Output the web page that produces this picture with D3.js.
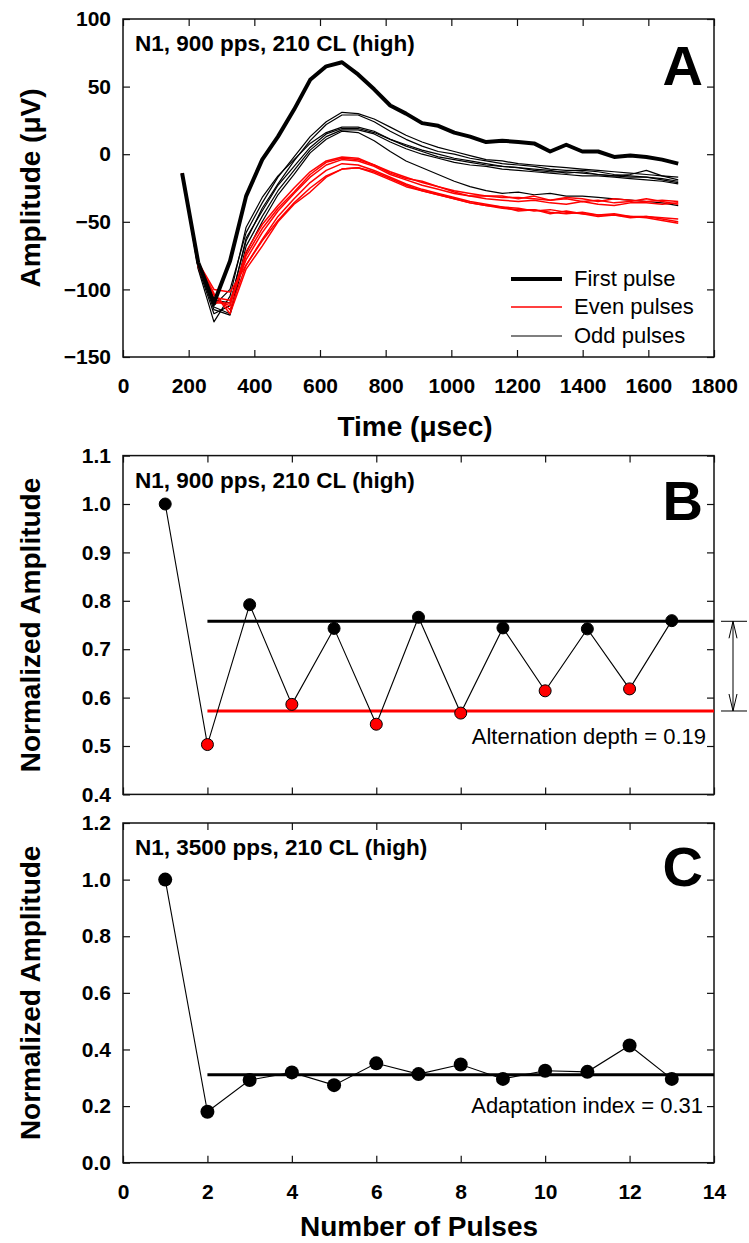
<!DOCTYPE html>
<html>
<head>
<meta charset="utf-8">
<script src="https://cdn.jsdelivr.net/npm/d3@7"></script>
<style>
  body { margin: 0; background: #fff; }
  svg { display: block; }
  text { font-family: "Liberation Sans", Arial, sans-serif; fill: #000; }
</style>
</head>
<body>
<svg id="fig" width="749" height="1243"></svg>
<script>
// ---- Panel A: compound action potential waveforms (µV vs µs) ----
const timeUs = [180, 229, 277, 326, 375, 424, 472, 521, 570, 619, 667, 716, 765, 814, 862, 911,
                960, 1009, 1057, 1106, 1155, 1204, 1252, 1301, 1350, 1399, 1447, 1496, 1545, 1594, 1642, 1691];

const firstPulse = [-14, -80, -110, -79, -31, -4, 13, 33, 55, 65, 68, 59, 48, 36, 30, 23,
                    21, 16, 13, 9, 10, 9, 8, 2, 7, 2, 2, -2, -1, -2, -4, -7];

const oddPulse3  = [-14, -82, -112, -100, -58, -36, -17, -2, 13, 24, 31, 30, 26, 20, 14, 9, 5, 2, -1, -4, -5, -7, -8, -9, -10, -11, -12, -13, -14, -15, -16, -17];
const oddPulse5  = [-14, -80, -108, -110, -64, -40, -22, -5, 10, 22, 29, 29, 24, 17, 11, 6, 2, 0, -3, -5, -7, -8, -9, -11, -12, -12, -13, -15, -16, -17, -18, -20];
const oddPulse7  = [-14, -85, -124, -105, -54, -32, -16, -4, 8, 16, 20, 20, 17, 11, 6, 2, -2, -4, -6, -8, -9, -10, -12, -13, -13, -14, -15, -16, -17, -17, -19, -21];
const oddPulse9  = [-14, -82, -113, -118, -68, -46, -27, -12, 3, 13, 18, 18, 15, 9, 4, 0, -3, -6, -8, -9, -11, -12, -13, -14, -15, -16, -16, -17, -18, -19, -20, -22];
const oddPulse11 = [-14, -84, -118, -112, -62, -42, -23, -9, 5, 15, 19, 19, 16, 11, 7, 3, 0, -3, -5, -7, -9, -10, -11, -12, -14, -13, -15, -16, -15, -12, -16, -19];
const oddPulse13 = [-14, -83, -115, -119, -73, -50, -30, -15, 1, 11, 17, 16, 10, 2, -5, -10, -15, -20, -24, -27, -29, -28, -30, -29, -31, -31, -32, -33, -34, -35, -36, -38];

const evenPulse2  = [-14, -80, -100, -102, -82, -64, -49, -36, -25, -16, -11, -10, -14, -19, -24, -27, -30, -33, -36, -38, -40, -41, -41, -43, -44, -43, -45, -45, -46, -47, -49, -51];
const evenPulse4  = [-14, -82, -108, -112, -75, -55, -40, -28, -15, -6, -3, -4, -8, -14, -18, -20, -24, -28, -31, -31, -32, -32, -33, -34, -32, -33, -35, -33, -34, -35, -34, -35];
const evenPulse6  = [-14, -81, -104, -115, -82, -63, -46, -33, -21, -12, -7, -8, -12, -17, -22, -26, -29, -32, -35, -37, -39, -40, -42, -41, -43, -44, -45, -44, -46, -46, -47, -48];
const evenPulse8  = [-14, -83, -110, -110, -72, -52, -38, -25, -13, -5, -2, -3, -8, -13, -17, -21, -24, -27, -29, -31, -31, -33, -31, -34, -33, -35, -34, -36, -35, -33, -35, -37];
const evenPulse10 = [-14, -80, -103, -118, -85, -68, -50, -37, -28, -17, -11, -10, -13, -18, -23, -27, -30, -33, -36, -38, -39, -42, -41, -44, -42, -44, -46, -45, -47, -46, -48, -50];
const evenPulse12 = [-14, -82, -106, -108, -78, -58, -42, -29, -17, -8, -4, -5, -9, -15, -19, -23, -26, -29, -31, -33, -34, -35, -34, -36, -37, -35, -37, -38, -36, -36, -37, -36];

const oddPulses  = [oddPulse3, oddPulse5, oddPulse7, oddPulse9, oddPulse11, oddPulse13];
const evenPulses = [evenPulse2, evenPulse4, evenPulse6, evenPulse8, evenPulse10, evenPulse12];

const timeTicks = [0, 200, 400, 600, 800, 1000, 1200, 1400, 1600, 1800];
const ampTicks  = [-150, -100, -50, 0, 50, 100];

// ---- Panels B and C: normalized amplitude per pulse ----
const pulseNumbers = [1, 2, 3, 4, 5, 6, 7, 8, 9, 10, 11, 12, 13];
const normAmp900  = [1.0, 0.503, 0.792, 0.586, 0.743, 0.545, 0.766, 0.568, 0.744, 0.614, 0.742, 0.618, 0.759];
const normAmp3500 = [1.0, 0.180, 0.292, 0.319, 0.274, 0.351, 0.313, 0.347, 0.296, 0.325, 0.321, 0.414, 0.296];

const pulseTicks = [0, 2, 4, 6, 8, 10, 12, 14];
const normTicksB = [0.4, 0.5, 0.6, 0.7, 0.8, 0.9, 1.0, 1.1];
const normTicksC = [0.0, 0.2, 0.4, 0.6, 0.8, 1.0, 1.2];

const conditionA = "N1, 900 pps, 210 CL (high)";
const conditionB = "N1, 900 pps, 210 CL (high)";
const conditionC = "N1, 3500 pps, 210 CL (high)";

// ---- layout ----
const svg = d3.select("#fig");
const L = 123, R = 714;
const panels = {
  A: { top: 19,    bottom: 357 },
  B: { top: 455.6, bottom: 794.4 },
  C: { top: 823,   bottom: 1162.7 }
};
const TICK = 7;

const xA = d3.scaleLinear([0, 1800], [L, R]);
const yA = d3.scaleLinear([-150, 100], [panels.A.bottom, panels.A.top]);
const xP = d3.scaleLinear([0, 14], [L, R]);
const yB = d3.scaleLinear([0.4, 1.1], [panels.B.bottom, panels.B.top]);
const yC = d3.scaleLinear([0, 1.2], [panels.C.bottom, panels.C.top]);

function frame(x, y, p, xTicks, yTicks, xFmt, yFmt, showXLabels) {
  const g = svg.append("g");
  const bottom = g.append("g").attr("transform", `translate(0,${p.bottom})`)
    .call(d3.axisBottom(x).tickValues(xTicks).tickSize(-TICK).tickPadding(21)
      .tickFormat(showXLabels ? xFmt : () => ""));
  const top = g.append("g").attr("transform", `translate(0,${p.top})`)
    .call(d3.axisTop(x).tickValues(xTicks).tickSize(-TICK).tickFormat(() => ""));
  const left = g.append("g").attr("transform", `translate(${L},0)`)
    .call(d3.axisLeft(y).tickValues(yTicks).tickSize(-TICK).tickPadding(12).tickFormat(yFmt));
  const right = g.append("g").attr("transform", `translate(${R},0)`)
    .call(d3.axisRight(y).tickValues(yTicks).tickSize(-TICK).tickFormat(() => ""));
  [bottom, top, left, right].forEach(a => {
    a.select(".domain").remove();
    a.selectAll(".tick line").attr("stroke", "#111").attr("stroke-width", 1.2);
    a.selectAll(".tick text").attr("font-size", 21).attr("font-weight", "bold")
      .attr("font-family", "'Liberation Sans', Arial, sans-serif").attr("fill", "#000");
  });
  g.append("rect").attr("x", L).attr("y", p.top)
    .attr("width", R - L).attr("height", p.bottom - p.top)
    .attr("fill", "none").attr("stroke", "#111").attr("stroke-width", 1.5);
}

function yTitle(text, p) {
  svg.append("text")
    .attr("transform", `translate(40,${(p.top + p.bottom) / 2}) rotate(-90)`)
    .attr("text-anchor", "middle").attr("font-size", 28).attr("font-weight", "bold")
    .text(text);
}

function panelTag(label, cond, p, letterBaseline) {
  svg.append("text").attr("x", 135).attr("y", p.top + 32)
    .attr("font-size", 22.5).attr("font-weight", "bold").text(cond);
  svg.append("text").attr("x", 703).attr("y", letterBaseline)
    .attr("text-anchor", "end").attr("font-size", 56).attr("font-weight", "bold").text(label);
}

// ================= Panel A =================
frame(xA, yA, panels.A, timeTicks, ampTicks, d3.format("d"), d3.format("d"), true);

const lineA = d3.line().x((d, i) => xA(timeUs[i])).y(d => yA(d));

const gA = svg.append("g");
gA.selectAll("path.odd").data(oddPulses).join("path").attr("class", "odd")
  .attr("d", lineA).attr("fill", "none").attr("stroke", "#000").attr("stroke-width", 1.2)
  .attr("stroke-linejoin", "round");
gA.selectAll("path.even").data(evenPulses).join("path").attr("class", "even")
  .attr("d", lineA).attr("fill", "none").attr("stroke", "#ff0000").attr("stroke-width", 1.5)
  .attr("stroke-linejoin", "round");
gA.append("path").datum(firstPulse).attr("d", lineA)
  .attr("fill", "none").attr("stroke", "#000").attr("stroke-width", 4)
  .attr("stroke-linejoin", "round");

// legend
const legend = [
  { label: "First pulse",  color: "#000",    width: 4,   y: 279 },
  { label: "Even pulses",  color: "#ff0000", width: 1.5, y: 307 },
  { label: "Odd pulses",   color: "#000",    width: 1.2, y: 336 }
];
const lg = svg.append("g");
legend.forEach(d => {
  lg.append("line").attr("x1", 511).attr("x2", 562).attr("y1", d.y).attr("y2", d.y)
    .attr("stroke", d.color).attr("stroke-width", d.width);
  lg.append("text").attr("x", 574).attr("y", d.y + 7).attr("font-size", 22).text(d.label);
});

panelTag("A", conditionA, panels.A, 85);
yTitle("Amplitude (\u03BCV)", panels.A);
svg.append("text").attr("x", 415).attr("y", 436).attr("text-anchor", "middle")
  .attr("font-size", 28).attr("font-weight", "bold").text("Time (\u03BCsec)");

// ================= Panel B =================
frame(xP, yB, panels.B, pulseTicks, normTicksB, d3.format("d"), d3.format(".1f"), false);

const oddIdx  = pulseNumbers.map((n, i) => i).filter(i => pulseNumbers[i] >= 3 && pulseNumbers[i] % 2 === 1);
const evenIdx = pulseNumbers.map((n, i) => i).filter(i => pulseNumbers[i] % 2 === 0);
const oddMean  = d3.mean(oddIdx, i => normAmp900[i]);
const evenMean = d3.mean(evenIdx, i => normAmp900[i]);

const gB = svg.append("g");
gB.append("line").attr("x1", xP(2)).attr("x2", xP(14)).attr("y1", yB(oddMean)).attr("y2", yB(oddMean))
  .attr("stroke", "#000").attr("stroke-width", 3);
gB.append("line").attr("x1", xP(2)).attr("x2", xP(14)).attr("y1", yB(evenMean)).attr("y2", yB(evenMean))
  .attr("stroke", "#ff0000").attr("stroke-width", 3);
gB.append("path").datum(normAmp900)
  .attr("d", d3.line().x((d, i) => xP(pulseNumbers[i])).y(d => yB(d)))
  .attr("fill", "none").attr("stroke", "#000").attr("stroke-width", 1.1);
gB.selectAll("circle").data(normAmp900).join("circle")
  .attr("cx", (d, i) => xP(pulseNumbers[i])).attr("cy", d => yB(d)).attr("r", 6)
  .attr("fill", (d, i) => pulseNumbers[i] % 2 === 0 ? "#ff0000" : "#000")
  .attr("stroke", "#000").attr("stroke-width", 1);

// alternation-depth bracket outside the right border
const ay1 = yB(oddMean), ay2 = yB(evenMean), ax = 733;
const br = svg.append("g").attr("stroke", "#000").attr("stroke-width", 1).attr("fill", "none");
br.append("line").attr("x1", 721).attr("x2", 747).attr("y1", ay1).attr("y2", ay1);
br.append("line").attr("x1", 721).attr("x2", 747).attr("y1", ay2).attr("y2", ay2);
br.append("line").attr("x1", ax).attr("x2", ax).attr("y1", ay1).attr("y2", ay2);
br.append("path").attr("d", `M${ax - 4},${ay1 + 17}L${ax},${ay1}L${ax + 4},${ay1 + 17}`);
br.append("path").attr("d", `M${ax - 4},${ay2 - 17}L${ax},${ay2}L${ax + 4},${ay2 - 17}`);

svg.append("text").attr("x", 706).attr("y", 744).attr("text-anchor", "end").attr("font-size", 22)
  .text("Alternation depth = " + d3.format(".2f")(oddMean - evenMean));

panelTag("B", conditionB, panels.B, 520);
yTitle("Normalized Amplitude", panels.B);

// ================= Panel C =================
frame(xP, yC, panels.C, pulseTicks, normTicksC, d3.format("d"), d3.format(".1f"), true);

const adaptIndex = d3.mean(normAmp3500.slice(1));
const gC = svg.append("g");
gC.append("line").attr("x1", xP(2)).attr("x2", xP(14)).attr("y1", yC(adaptIndex)).attr("y2", yC(adaptIndex))
  .attr("stroke", "#000").attr("stroke-width", 3);
gC.append("path").datum(normAmp3500)
  .attr("d", d3.line().x((d, i) => xP(pulseNumbers[i])).y(d => yC(d)))
  .attr("fill", "none").attr("stroke", "#000").attr("stroke-width", 1.1);
gC.selectAll("circle").data(normAmp3500).join("circle")
  .attr("cx", (d, i) => xP(pulseNumbers[i])).attr("cy", d => yC(d)).attr("r", 7)
  .attr("fill", "#000");

svg.append("text").attr("x", 703).attr("y", 1113).attr("text-anchor", "end").attr("font-size", 22)
  .text("Adaptation index = " + d3.format(".2f")(adaptIndex));

panelTag("C", conditionC, panels.C, 886);
yTitle("Normalized Amplitude", panels.C);
svg.append("text").attr("x", 419).attr("y", 1236).attr("text-anchor", "middle")
  .attr("font-size", 28).attr("font-weight", "bold").text("Number of Pulses");
</script>
</body>
</html>
